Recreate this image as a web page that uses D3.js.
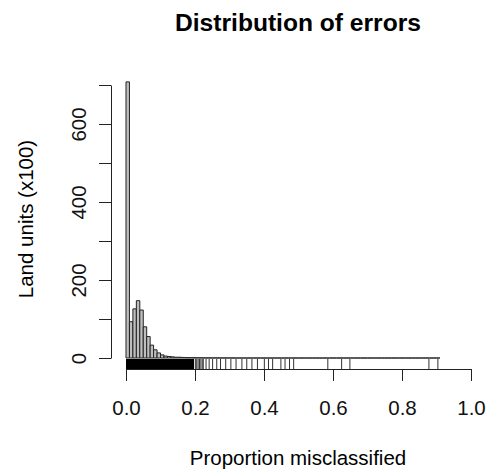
<!DOCTYPE html>
<html>
<head>
<meta charset="utf-8">
<script src="https://cdn.jsdelivr.net/npm/d3@7"></script>
<style>
	body { margin: 0; background: #fff; }
	text { font-family: 'Liberation Sans', Arial, sans-serif; }
</style>
</head>
<body>
<svg id="chart" width="486" height="473"></svg>
<script>
// histogram: bins of 0.01 from 0 to 0.91, counts in hundreds of land units
const binWidth = 0.01
const counts = [
	708, 93, 126, 147, 123, 80, 55, 33, 21, 13,
	8, 5, 4, 3, 2, 2, 1.5, 1, 1, 0.8,
	0.6, 0.5, 0.4, 0.3, 0.3, 0.2, 0.2, 0.2, 0.1, 0.1,
	0.1, 0.1, 0, 0, 0, 0, 0, 0, 0, 0,
	0, 0, 0, 0, 0, 0, 0, 0, 0, 0,
	0, 0, 0, 0, 0, 0, 0, 0, 0, 0,
	0, 0, 0, 0, 0, 0, 0, 0, 0, 0,
	0, 0, 0, 0, 0, 0, 0, 0, 0, 0,
	0, 0, 0, 0, 0, 0, 0, 0, 0, 0,
	0
]

// rug of observed proportions (dense below 0.19)
const rugValues = [
	0.000, 0.0025, 0.005, 0.0075, 0.010, 0.0125, 0.015, 0.0175, 0.020, 0.0225,
	0.025, 0.0275, 0.030, 0.0325, 0.035, 0.0375, 0.040, 0.0425, 0.045, 0.0475,
	0.050, 0.0525, 0.055, 0.0575, 0.060, 0.0625, 0.065, 0.0675, 0.070, 0.0725,
	0.075, 0.0775, 0.080, 0.0825, 0.085, 0.0875, 0.090, 0.0925, 0.095, 0.0975,
	0.100, 0.1025, 0.105, 0.1075, 0.110, 0.1125, 0.115, 0.1175, 0.120, 0.1225,
	0.125, 0.1275, 0.130, 0.1325, 0.135, 0.1375, 0.140, 0.1425, 0.145, 0.1475,
	0.150, 0.1525, 0.155, 0.1575, 0.160, 0.1625, 0.165, 0.1675, 0.170, 0.1725,
	0.175, 0.1775, 0.180, 0.1825, 0.185, 0.1875, 0.190,
	0.193, 0.197, 0.201, 0.205, 0.209, 0.213, 0.217, 0.221,
	0.224, 0.232, 0.241, 0.251, 0.263, 0.274, 0.289, 0.304, 0.319, 0.336,
	0.350, 0.365, 0.381, 0.401, 0.413, 0.425, 0.449, 0.461, 0.474, 0.486,
	0.585, 0.625, 0.649, 0.878, 0.904
]

const xTicks = [0, 0.2, 0.4, 0.6, 0.8, 1.0]
const yTicks = [0, 100, 200, 300, 400, 500, 600, 700]
const yLabelled = [0, 200, 400, 600]

const fontSize = 20.5
const svg = d3.select('#chart')

const x = d3.scaleLinear().domain([0, 1]).range([126, 471])
const y = d3.scaleLinear().domain([0, 700]).range([358, 85])

// bars (drawn as paths so empty bins still leave a line on the baseline)
svg
	.append('g')
	.selectAll('path')
	.data(counts)
	.join('path')
	.attr('d', (d, i) => {
		const x0 = x(i * binWidth)
		const x1 = x((i + 1) * binWidth)
		return `M${x0},${y(0)}V${y(d)}H${x1}V${y(0)}Z`
	})
	.style('fill', '#bebebe')
	.style('stroke', '#222')
	.style('stroke-width', 1)

// rug
svg
	.append('g')
	.selectAll('line')
	.data(rugValues)
	.join('line')
	.attr('x1', (d) => x(d))
	.attr('x2', (d) => x(d))
	.attr('y1', 359)
	.attr('y2', 369)
	.style('stroke', (d) => (d < 0.2 ? '#000' : '#333'))
	.style('stroke-width', 1)
	.style('shape-rendering', (d) => (d < 0.2 ? 'crispEdges' : 'auto'))

// x axis
const xAxis = svg
	.append('g')
	.attr('transform', 'translate(0,369)')
	.call(d3.axisBottom(x).tickValues(xTicks).tickSize(12).tickSizeOuter(0).tickFormat(d3.format('.1f')))
xAxis.selectAll('path, line').style('stroke', '#222')
xAxis
	.selectAll('text')
	.attr('y', 46)
	.attr('dy', 0)
	.style('font-size', `${fontSize}px`)
	.style('fill', '#111')

// y axis
const yAxis = svg
	.append('g')
	.attr('transform', 'translate(111,0)')
	.call(
		d3
			.axisLeft(y)
			.tickValues(yTicks)
			.tickSize(12)
			.tickSizeOuter(0)
			.tickFormat((d) => (yLabelled.includes(d) ? d : ''))
	)
yAxis.selectAll('path, line').style('stroke', '#222')
yAxis
	.selectAll('text')
	.attr('transform', 'rotate(-90)')
	.attr('x', 0)
	.attr('y', -25)
	.attr('dy', 0)
	.attr('text-anchor', 'middle')
	.style('font-size', `${fontSize}px`)
	.style('fill', '#111')

// titles
svg
	.append('text')
	.attr('x', 298)
	.attr('y', 31)
	.attr('text-anchor', 'middle')
	.style('font-size', `${fontSize * 1.2}px`)
	.style('font-weight', 'bold')
	.text('Distribution of errors')

svg
	.append('text')
	.attr('x', 298)
	.attr('y', 465)
	.attr('text-anchor', 'middle')
	.style('font-size', `${fontSize}px`)
	.text('Proportion misclassified')

svg
	.append('text')
	.attr('transform', 'translate(33,219) rotate(-90)')
	.attr('text-anchor', 'middle')
	.style('font-size', `${fontSize}px`)
	.text('Land units (x100)')
</script>
</body>
</html>
